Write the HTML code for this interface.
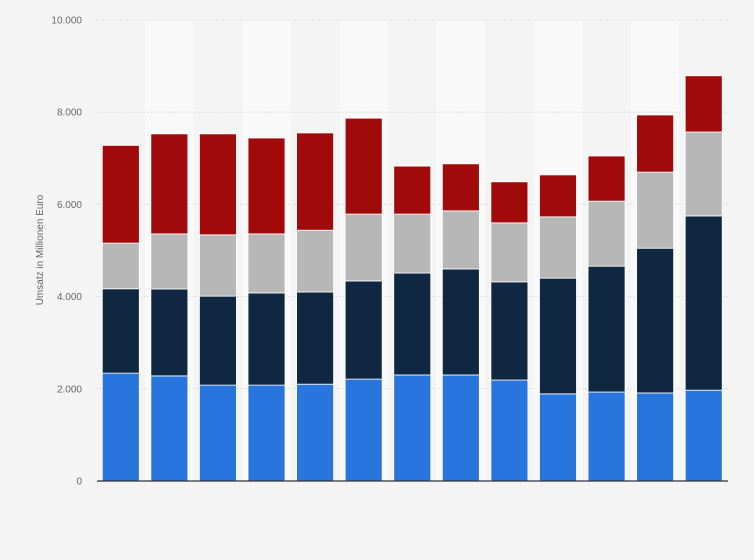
<!DOCTYPE html>
<html><head><meta charset="utf-8"><style>
body{margin:0;background:#f4f4f4;font-family:"Liberation Sans",sans-serif;}
svg{display:block}
</style></head><body>
<svg id="chart" width="754" height="560">
<rect x="0" y="0" width="754" height="560" fill="#f4f4f4"/>
<g id="stripes"></g><g id="grid"></g><g id="bars"></g><g id="ticks"></g>
<line x1="97" y1="481" x2="728" y2="481" stroke="#333" stroke-width="1.2"/>
<text x="43" y="250" transform="rotate(-90 43 250)" text-anchor="middle" font-size="10" fill="#666">Umsatz in Millionen Euro</text>
</svg>
<script>
const categories=["1","2","3","4","5","6","7","8","9","10","11","12","13"];
const blueVals=[2340,2280,2080,2080,2100,2210,2300,2300,2190,1890,1930,1910,1970];
const navyVals=[1830,1885,1930,2000,2000,2130,2210,2300,2130,2510,2730,3140,3780];
const grayVals=[990,1195,1330,1280,1340,1450,1280,1260,1280,1330,1410,1650,1820];
const redVals=[2120,2170,2190,2080,2110,2080,1040,1020,890,910,980,1240,1220];
const yTicks=[0,2000,4000,6000,8000,10000];
const yTickLabels=["0","2.000","4.000","6.000","8.000","10.000"];
const NS="http://www.w3.org/2000/svg";
const x0=96.5,x1=728,y0=481,yTop=20,yMax=10000;
const step=(x1-x0)/categories.length,bw=37;
const y=v=>y0-(v/yMax)*(y0-yTop);
const xc=i=>x0+step*(i+0.5);
function mk(t,a,p){const e=document.createElementNS(NS,t);for(const k in a)e.setAttribute(k,a[k]);p.appendChild(e);return e;}
const S=document.getElementById('stripes'),G=document.getElementById('grid'),B=document.getElementById('bars'),T=document.getElementById('ticks');
categories.forEach((c,i)=>{if(i%2===1){const r=mk('rect',{x:x0+step*i,y:yTop,width:step,height:y0-yTop,fill:'#f9f9f9'},S);

}});
yTicks.forEach((v,i)=>{
if(v>0){const l=mk('line',{x1:x0,x2:x1,y1:y(v),y2:y(v),stroke:'#ccc','stroke-dasharray':'1,2'},G);

}
const t=mk('text',{x:82,y:y(v)+3.5,'text-anchor':'end','font-size':'10',fill:'#666'},T);t.textContent=yTickLabels[i];


});
const series=[[blueVals,'#2876dd','blue'],[navyVals,'#0f2740','navy'],[grayVals,'#b7b7b7','gray'],[redVals,'#a10a0a','red']];
categories.forEach((c,i)=>{let base=0;series.forEach(([vals,col,nm])=>{const top=base+vals[i];
const r=mk('rect',{x:xc(i)-bw/2,y:y(top),width:bw,height:y(base)-y(top),fill:col,stroke:'#fff','stroke-width':'0.8'},B);


base=top;});});
</script>
</body></html>
